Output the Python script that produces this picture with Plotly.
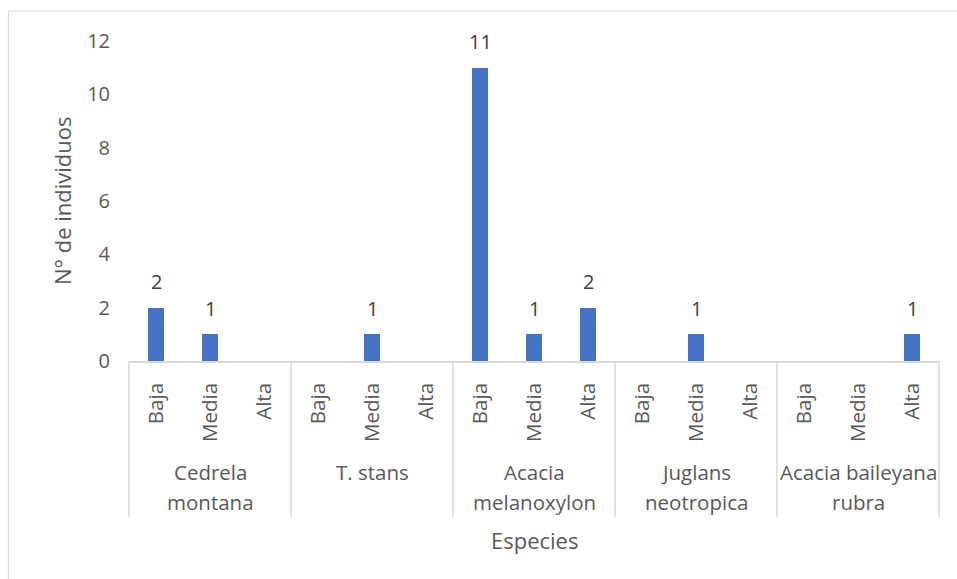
import plotly.graph_objects as go

# Species (groups) and abundance classes (sub-categories)
especies = ["Cedrela<br>montana", "T. stans", "Acacia<br>melanoxylon",
            "Juglans<br>neotropica", "Acacia baileyana<br>rubra"]
clases = ["Baja", "Media", "Alta"]

# Number of individuals per species / class, in the same order as above
individuos = [
    [2, 1, 0],
    [0, 1, 0],
    [11, 1, 2],
    [0, 1, 0],
    [0, 0, 1],
]

y_ticks = [0, 2, 4, 6, 8, 10, 12]

BAR = "#4472C4"
GRID = "#d9d9d9"
TXT = "#595959"
FONT = "Open Sans"

W, H = 957, 579
M = dict(l=129, r=18, t=41, b=218)
plot_w = W - M["l"] - M["r"]
plot_h = H - M["t"] - M["b"]

n_cls = len(clases)
n_cat = len(especies) * n_cls
xs = list(range(n_cat))
ys = [v for grp in individuos for v in grp]
tick_text = clases * len(especies)

fig = go.Figure()
fig.add_trace(go.Bar(x=xs, y=ys, width=0.31, marker=dict(color=BAR, line=dict(width=0)),
                     hoverinfo="skip"))

annotations = []
# value labels above non-zero bars
for x, v in zip(xs, ys):
    if v > 0:
        annotations.append(dict(x=x, y=v, xref="x", yref="y", text=str(v), showarrow=False,
                                yanchor="middle", yshift=26,
                                font=dict(family=FONT, size=20, color="#404040")))

# group labels under the class labels, one annotation per text line
x_min, x_max = -0.5, n_cat - 0.5
for g, name in enumerate(especies):
    cx = g * n_cls + (n_cls - 1) / 2
    for i, line in enumerate(name.split("<br>")):
        annotations.append(dict(x=cx, y=0, xref="x", yref="paper", text=line, showarrow=False,
                                yanchor="middle", yshift=-(111 + 30 * i),
                                font=dict(family=FONT, size=20.5, color=TXT)))

# axis titles
annotations.append(dict(x=0.5, y=0, xref="paper", yref="paper", text="Especies", showarrow=False,
                        yanchor="middle", yshift=-179, font=dict(family=FONT, size=22, color=TXT)))
annotations.append(dict(x=0, y=0.5, xref="paper", yref="paper", text="N° de individuos",
                        showarrow=False, textangle=-90, xanchor="center", xshift=-67,
                        font=dict(family=FONT, size=22, color=TXT)))

shapes = []
# vertical separators between species groups, extending through both label rows
for g in range(len(especies) + 1):
    xb = g * n_cls - 0.5
    xd = (xb - x_min) / (x_max - x_min)
    shapes.append(dict(type="line", xref="x domain", yref="paper", x0=xd, x1=xd,
                       y0=0, y1=-156 / plot_h, line=dict(color=GRID, width=1.5)))

# outer chart frame
shapes.append(dict(type="rect", xref="paper", yref="paper",
                   x0=(8.5 - M["l"]) / plot_w, x1=(W + 20 - M["l"]) / plot_w,
                   y0=-(M["b"] + 20) / plot_h, y1=(H - M["b"] - 11) / plot_h,
                   line=dict(color=GRID, width=1.2), fillcolor="rgba(0,0,0,0)", layer="below"))

fig.update_layout(
    width=W, height=H, margin=M,
    paper_bgcolor="white", plot_bgcolor="white",
    showlegend=False, bargap=0,
    font=dict(family=FONT, color=TXT),
    annotations=annotations, shapes=shapes,
    xaxis=dict(range=[x_min, x_max], tickmode="array", tickvals=xs, ticktext=tick_text,
               tickangle=-90, ticks="", showgrid=False, zeroline=False,
               showline=True, linecolor=GRID, linewidth=1.5,
               ticklabelstandoff=12, tickfont=dict(family=FONT, size=20.5, color=TXT)),
    yaxis=dict(range=[0, 12], tickmode="array", tickvals=y_ticks,
               ticks="", showgrid=False, zeroline=False, showline=False,
               ticklabelstandoff=18, tickfont=dict(family=FONT, size=20, color=TXT)),
)

fig.write_html("out.html")
